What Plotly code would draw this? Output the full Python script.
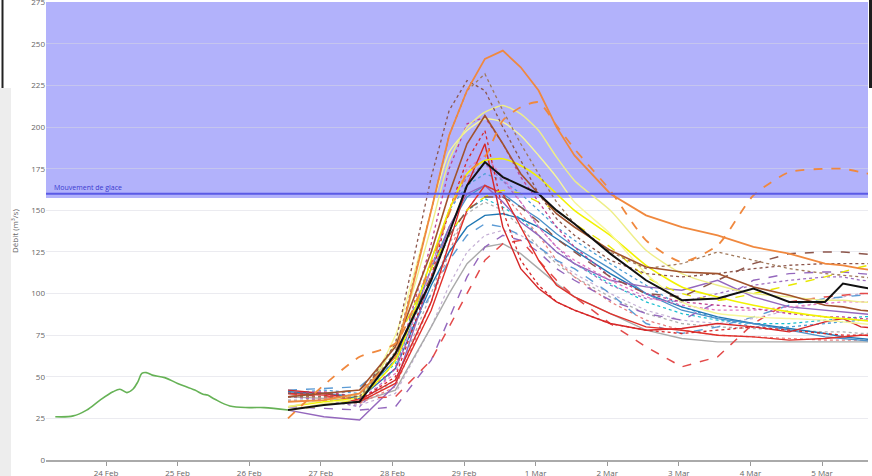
import plotly.graph_objects as go

# observation (green)
obs_t = ["2024-02-23 07:00", "2024-02-23 13:00", "2024-02-23 17:30", "2024-02-23 22:00",
         "2024-02-24 02:20", "2024-02-24 04:40", "2024-02-24 07:00", "2024-02-24 09:00",
         "2024-02-24 10:40", "2024-02-24 12:00", "2024-02-24 13:30", "2024-02-24 15:30",
         "2024-02-24 19:40", "2024-02-25 00:00", "2024-02-25 05:45", "2024-02-25 08:30",
         "2024-02-25 10:00", "2024-02-25 12:30", "2024-02-25 17:30", "2024-02-26 00:00",
         "2024-02-26 05:00", "2024-02-26 13:00"]
obs_q = [26, 26.5, 30, 36, 41, 42.5, 40.5, 42.5, 47, 52, 52.5, 51, 49.5, 46, 42, 39.5,
         39, 36.5, 32.5, 31.5, 31.5, 30]

# forecast time steps
fc_t = ["2024-02-26 13:00", "2024-02-27 01:00", "2024-02-27 13:00", "2024-02-28 01:00",
        "2024-02-28 13:00", "2024-02-28 19:00", "2024-02-29 01:00", "2024-02-29 07:00",
        "2024-02-29 13:00", "2024-02-29 19:00", "2024-03-01 01:00", "2024-03-01 07:00",
        "2024-03-01 13:00", "2024-03-02 01:00", "2024-03-02 13:00", "2024-03-03 01:00",
        "2024-03-03 13:00", "2024-03-04 01:00", "2024-03-04 13:00", "2024-03-05 01:00",
        "2024-03-05 07:00", "2024-03-05 13:00", "2024-03-06 01:00"]

# ensemble members: (color, dash, width, smooth, values)
members = [
    ("#c5b0d5", "dot", 1.2, False, [36, 35, 33, 40, 80, 105, 125, 135, 138, 135, 128, 120, 112, 100, 90, 84, 82, 85, 90, 96, 98, 100, 100]),
    ("#aaaaaa", "solid", 1.4, False, [38, 37, 35, 42, 80, 100, 118, 128, 130, 124, 115, 106, 98, 88, 78, 73, 71, 71, 71, 71, 71, 71, 71]),
    ("#b0b0b0", "dot", 1.3, False, [36, 36, 34, 48, 100, 130, 148, 155, 150, 140, 128, 118, 110, 98, 88, 82, 80, 79, 78, 77, 77, 76, 76]),
    ("#17becf", "dot", 1.2, False, [38, 38, 38, 58, 110, 135, 150, 157, 152, 145, 135, 125, 118, 106, 95, 88, 84, 82, 82, 84, 85, 86, 87]),
    ("#e88080", "dot", 1.3, False, [38, 37, 34, 44, 95, 125, 150, 165, 160, 148, 135, 120, 110, 95, 84, 78, 75, 74, 73, 72, 72, 72, 72]),
    ("#5b9bd5", "dash", 1.4, False, [42, 43, 44, 62, 100, 120, 135, 142, 140, 135, 128, 120, 115, 100, 82, 76, 80, 86, 93, 97, 98, 99, 100]),
    ("#4f9fd6", "dot", 1.3, False, [40, 42, 40, 60, 120, 150, 165, 172, 168, 160, 150, 140, 132, 118, 105, 92, 85, 80, 80, 82, 83, 84, 84]),
    ("#1f77b4", "solid", 1.4, False, [41, 40, 37, 55, 105, 125, 140, 147, 148, 145, 140, 133, 126, 112, 100, 92, 86, 82, 79, 76, 74, 73, 71]),
    ("#4a90c9", "solid", 1.3, False, [40, 40, 38, 60, 115, 140, 158, 165, 160, 152, 145, 136, 128, 115, 100, 90, 85, 82, 78, 74, 73, 72, 70]),
    ("#9467bd", "solid", 1.4, False, [30, 26, 24, 45, 110, 140, 160, 165, 155, 143, 135, 125, 118, 108, 104, 102, 108, 98, 92, 90, 89, 88, 86]),
    ("#9467bd", "dash", 1.4, False, [32, 31, 30, 32, 60, 85, 110, 128, 135, 132, 125, 115, 108, 96, 88, 84, 95, 108, 112, 113, 113, 112, 110]),
    ("#a070c0", "dot", 1.3, False, [38, 36, 32, 55, 115, 150, 170, 178, 168, 155, 140, 128, 118, 105, 97, 95, 100, 105, 108, 110, 110, 108, 106]),
    ("#e377c2", "dot", 1.3, False, [40, 39, 36, 52, 115, 150, 175, 183, 170, 155, 140, 128, 120, 108, 98, 93, 90, 90, 92, 94, 95, 95, 95]),
    ("#e34a4a", "dash", 1.5, False, [40, 38, 37, 38, 60, 80, 100, 120, 130, 132, 120, 108, 98, 82, 68, 56, 62, 82, 95, 98, 99, 100, 100]),
    ("#e0302a", "solid", 1.4, False, [40, 39, 35, 46, 90, 120, 150, 165, 160, 140, 120, 105, 98, 88, 80, 78, 75, 74, 72, 73, 74, 75, 75]),
    ("#d62728", "solid", 1.4, False, [42, 40, 36, 48, 95, 130, 165, 190, 140, 115, 103, 95, 90, 82, 78, 79, 82, 80, 77, 83, 85, 80, 78]),
    ("#d62728", "dot", 1.3, False, [40, 40, 36, 50, 110, 150, 180, 198, 150, 120, 105, 95, 90, 82, 78, 76, 78, 80, 78, 76, 75, 75, 74]),
    ("#c0408f", "dot", 1.3, False, [40, 41, 38, 55, 130, 175, 202, 206, 190, 170, 155, 140, 128, 110, 100, 95, 93, 91, 88, 86, 86, 85, 84]),
    ("#e8e800", "dash", 1.4, True, [30, 33, 38, 70, 115, 135, 150, 158, 162, 160, 155, 150, 142, 128, 110, 100, 96, 100, 105, 110, 113, 116, 120]),
    ("#f2f200", "solid", 1.6, True, [32, 35, 38, 60, 120, 150, 172, 180, 181, 177, 170, 160, 150, 135, 117, 104, 98, 93, 89, 86, 85, 84, 82]),
    ("#f7f79a", "solid", 1.4, True, [30, 34, 38, 75, 150, 185, 198, 205, 203, 195, 183, 170, 155, 136, 112, 95, 88, 86, 85, 84, 83, 82, 80]),
    ("#eeee88", "solid", 1.4, True, [32, 36, 40, 70, 140, 180, 200, 209, 213, 208, 198, 182, 168, 150, 126, 112, 105, 100, 98, 96, 96, 95, 94]),
    ("#8c564b", "dash", 1.5, False, [38, 40, 42, 62, 110, 135, 150, 158, 158, 152, 143, 133, 125, 110, 100, 98, 108, 118, 124, 125, 125, 124, 122]),
    ("#8c564b", "dot", 1.3, False, [40, 40, 38, 70, 170, 210, 228, 222, 200, 180, 160, 145, 135, 120, 112, 110, 112, 115, 117, 118, 118, 118, 118]),
    ("#a0785a", "dot", 1.3, False, [38, 38, 37, 65, 150, 195, 222, 232, 210, 190, 172, 155, 142, 125, 115, 118, 125, 120, 115, 112, 111, 110, 108]),
    ("#a0522d", "solid", 1.6, False, [38, 40, 42, 68, 125, 160, 190, 207, 190, 172, 160, 148, 140, 126, 116, 113, 112, 104, 99, 93, 92, 90, 88]),
    ("#f0883e", "dash", 1.8, True, [25, 45, 62, 70, 118, 148, 172, 182, 204, 212, 215, 201, 187, 162, 132, 119, 129, 159, 173, 175, 175, 173, 168]),
    ("#f0883e", "solid", 1.8, False, [35, 36, 40, 62, 150, 195, 222, 241, 246, 236, 222, 200, 183, 160, 147, 140, 135, 128, 124, 118, 117, 115, 112]),
    ("#111111", "solid", 2.0, False, [30, 33, 35, 64, 108, 136, 165, 179, 170, 165, 160, 150, 142, 124, 108, 96, 97, 103, 95, 95, 106, 104, 100]),
]

ice_level = 160
band_low = 157.5

fig = go.Figure()

fig.add_trace(go.Scatter(x=obs_t, y=obs_q, mode="lines", line=dict(color="#66b256", width=1.6),
                         line_shape="spline", hoverinfo="skip"))

for color, dash, width, smooth, vals in members:
    fig.add_trace(go.Scatter(
        x=fc_t, y=vals, mode="lines",
        line=dict(color=color, width=width, dash=dash, shape="spline" if smooth else "linear",
                  smoothing=0.6),
        hoverinfo="skip",
    ))

W, H = 872, 476
L, R, T, B = 46, 4, 2, 16
pw, ph = W - L - R, H - T - B


def px(x):
    return (x - L) / pw


def py(y):
    return (H - B - y) / ph


fig.update_layout(
    width=W, height=H,
    margin=dict(l=L, r=R, t=T, b=B),
    paper_bgcolor="white", plot_bgcolor="white",
    showlegend=False,
    font=dict(family="Open Sans, DejaVu Sans, sans-serif", size=9, color="#666666"),
    shapes=[
        dict(type="rect", xref="paper", yref="y", x0=0, x1=1, y0=band_low, y1=300,
             fillcolor="#b2b2fb", line_width=0, layer="below"),
        dict(type="line", xref="paper", yref="y", x0=0, x1=1, y0=ice_level, y1=ice_level,
             line=dict(color="#5a5ae6", width=2)),
        # screenshot edges
        dict(type="rect", xref="paper", yref="paper", x0=px(0), x1=px(11), y0=py(476), y1=py(88),
             fillcolor="#ededed", line_width=0, layer="below"),
        dict(type="line", xref="paper", yref="paper", x0=px(2.5), x1=px(2.5), y0=py(88), y1=py(0),
             line=dict(color="#222222", width=2)),
        dict(type="rect", xref="paper", yref="paper", x0=px(869), x1=px(872), y0=py(88), y1=py(0),
             fillcolor="#1e1e1e", line_width=0),
    ],
    annotations=[
        dict(text="Mouvement de glace", xref="paper", yref="y", x=px(52), y=ice_level,
             xanchor="left", yanchor="bottom", showarrow=False, yshift=0,
             font=dict(size=7, color="#3a3ad0")),
        dict(text="Débit (m³/s)", xref="paper", yref="paper", x=px(14), y=0.5,
             xanchor="center", yanchor="middle", showarrow=False, textangle=-90,
             font=dict(size=8, color="#666666")),
    ],
)

fig.update_xaxes(
    type="date", automargin=False, ticklabeloverflow="allow",
    range=["2024-02-23 03:53", "2024-03-05 15:24"],
    tick0="2024-02-24", dtick=86400000, tickformat="%-d %b",
    ticks="outside", ticklen=4, tickcolor="#999999",
    showline=True, linecolor="#aaaaaa", linewidth=2,
    showgrid=False, zeroline=False,
    tickfont=dict(size=8, color="#666666"),
)
fig.update_yaxes(
    automargin=False, ticklabeloverflow="allow",
    range=[0, 275.2], dtick=25, tick0=0,
    showgrid=True, gridcolor="rgba(215,215,225,0.5)", gridwidth=1,
    zeroline=False, showline=False, ticks="",
    tickfont=dict(size=8, color="#666666"),
)

fig.write_html("out.html", config={"displayModeBar": False},
               post_script="document.body.style.margin='0';")
